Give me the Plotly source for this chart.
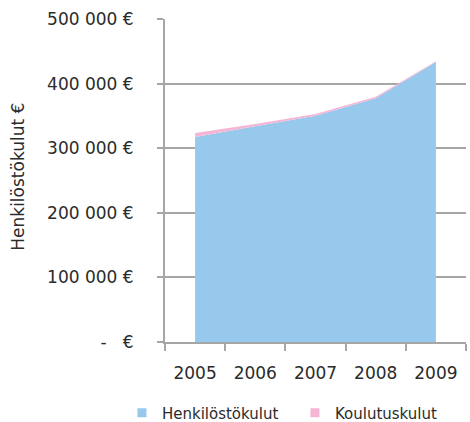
import plotly.graph_objects as go

years = ["2005", "2006", "2007", "2008", "2009"]
henkilostokulut = [317500, 334000, 350300, 377500, 433500]
koulutuskulut = [6000, 3500, 2800, 2000, 1200]

y_tickvals = [0, 100000, 200000, 300000, 400000, 500000]
y_ticktext = ["-   €", "100 000 €", "200 000 €", "300 000 €", "400 000 €", "500 000 €"]
y_title = "Henkilöstökulut €"

blue = "#96C9EC"
pink = "#F5B6D5"
grid = "#A6A6A6"
txt = "#2B2B2B"
font = "DejaVu Sans"

fig = go.Figure()
fig.add_trace(go.Scatter(x=years, y=henkilostokulut, stackgroup="one", mode="none",
                         fillcolor=blue, name="Henkilöstökulut", showlegend=False))
fig.add_trace(go.Scatter(x=years, y=koulutuskulut, stackgroup="one", mode="none",
                         fillcolor=pink, name="Koulutuskulut", showlegend=False))
# legend entries with square swatches
fig.add_trace(go.Scatter(x=[None], y=[None], mode="markers", name="Henkilöstökulut",
                         marker=dict(symbol="square", size=9, color=blue)))
fig.add_trace(go.Scatter(x=[None], y=[None], mode="markers", name="Koulutuskulut",
                         marker=dict(symbol="square", size=9, color=pink)))

fig.update_layout(
    width=470, height=422,
    margin=dict(l=165, r=4, t=19, b=80, autoexpand=False),
    paper_bgcolor="white", plot_bgcolor="white",
    font=dict(family=font, size=17, color=txt),
    showlegend=True,
    legend=dict(orientation="h", xref="paper", yref="paper",
                x=-0.143, y=-0.22, xanchor="left", yanchor="middle",
                traceorder="normal", bgcolor="rgba(0,0,0,0)",
                font=dict(size=15, color=txt), entrywidth=128,
                itemclick=False),
    xaxis=dict(type="category", range=[-0.5, 4.5], tickson="boundaries",
               ticks="outside", ticklen=7, tickcolor=grid, tickwidth=2,
               showline=True, linecolor=grid, linewidth=2, showgrid=False,
               ticklabelstandoff=15, automargin=False),
    yaxis=dict(range=[0, 500000], tickvals=y_tickvals, ticktext=y_ticktext,
               ticks="outside", ticklen=6, tickcolor=grid, tickwidth=2,
               showline=True, linecolor=grid, linewidth=2,
               showgrid=True, gridcolor=grid, gridwidth=2,
               zeroline=False, ticklabelstandoff=20, automargin=False),
    annotations=[dict(text=y_title, textangle=-90, showarrow=False,
                      xref="paper", yref="paper", x=-0.488, y=0.512,
                      xanchor="center", yanchor="middle",
                      font=dict(size=17, color=txt))],
)

fig.write_html("out.html", config={"displayModeBar": False},
               post_script="document.body.style.margin='0';")
